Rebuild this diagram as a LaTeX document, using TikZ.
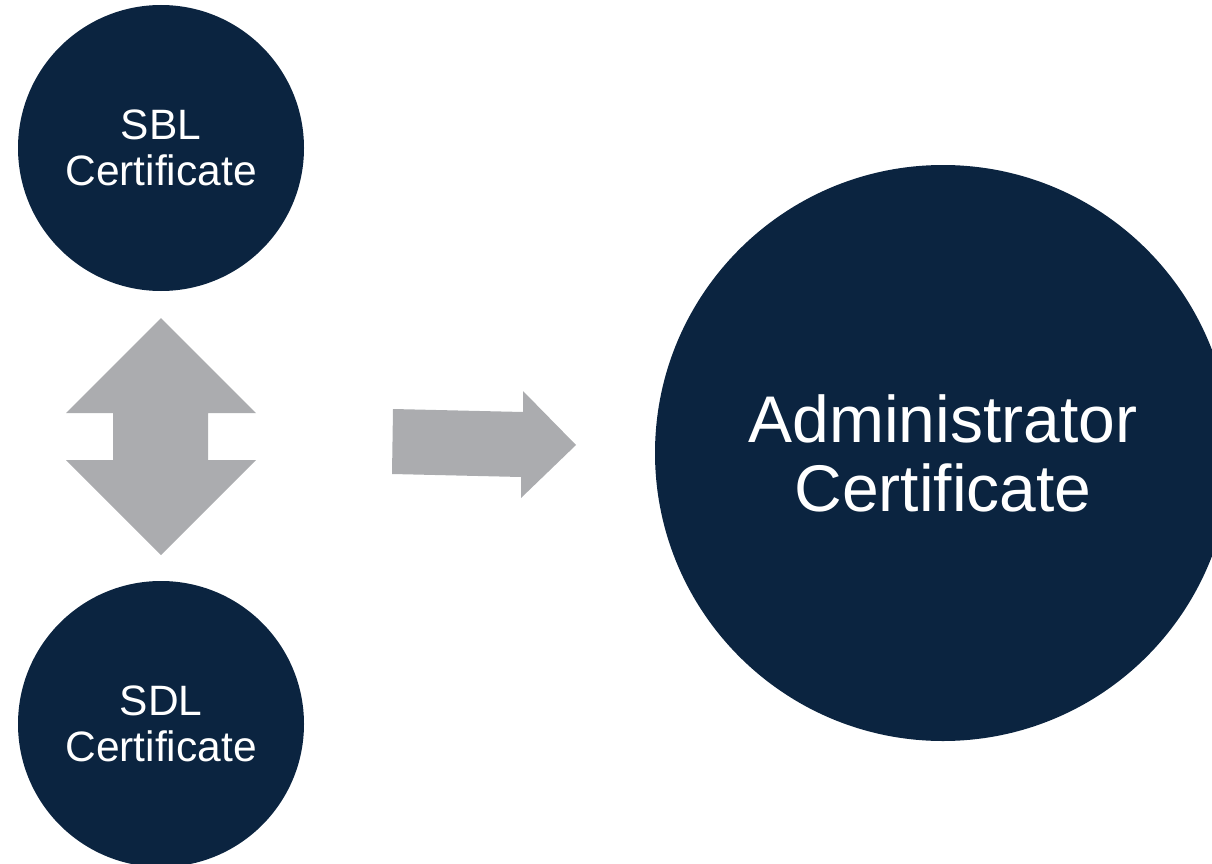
\documentclass[tikz,border=0pt]{standalone}
\usepackage{fontspec}
\setmainfont{Liberation Sans}
\definecolor{navy}{HTML}{0B2440}
\definecolor{arrowgray}{HTML}{ABACAF}
\begin{document}
\begin{tikzpicture}[x=1pt,y=-1pt,
  cert/.style={circle,fill=navy,text=white,align=center,inner sep=0pt},
  small/.style={cert,minimum size=286pt,font=\fontsize{42.5}{46}\selectfont},
  big/.style={cert,minimum size=576pt,font=\fontsize{66}{69}\selectfont},
  blockarrow/.style={fill=arrowgray,draw=none}]
\useasboundingbox (0,0) rectangle (1212,864);
\clip (0,0) rectangle (1212,864);
\node[small] (sbl) at (161,148) {SBL\\Certificate};
\node[small] (sdl) at (161,724) {SDL\\Certificate};
\node[big] (admin) at (943,453) {Administrator\\Certificate};
% double block arrow between SBL and SDL
\fill[blockarrow] (161,318) -- (256,413) -- (208,413) -- (208,460) -- (256,460)
  -- (161,555) -- (66,460) -- (113,460) -- (113,413) -- (66,413) -- cycle;
% block arrow toward administrator certificate
\fill[blockarrow] (393,409) -- (523,412) -- (523,391) -- (576,445) -- (521,498)
  -- (521,477) -- (392,474) -- cycle;
\end{tikzpicture}
\end{document}
